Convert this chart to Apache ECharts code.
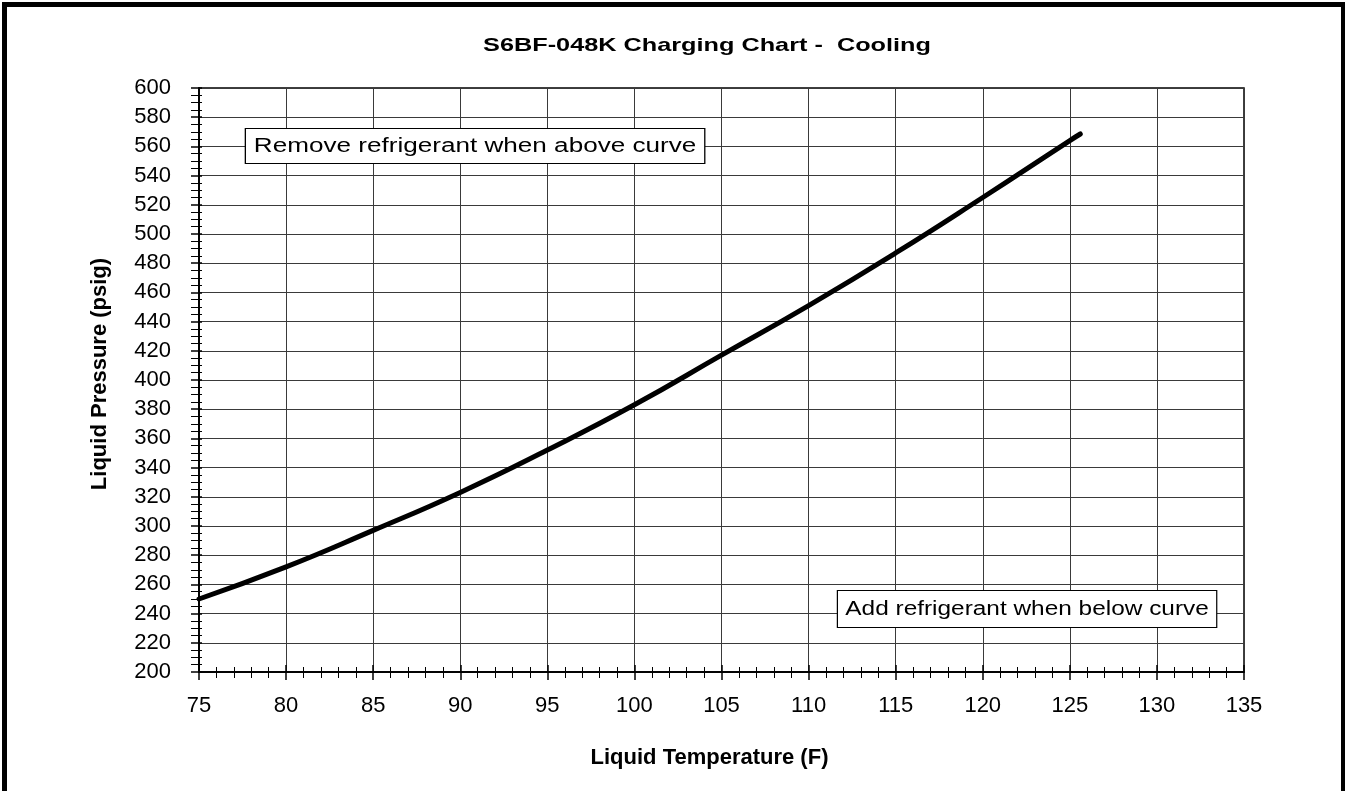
<!DOCTYPE html>
<html>
<head>
<meta charset="utf-8">
<script src="https://cdn.jsdelivr.net/npm/echarts@6/dist/echarts.min.js"></script>
<style>
html,body{margin:0;padding:0;background:#fff;}
#c{width:1345px;height:791px;}
</style>
</head>
<body>
<div id="c"></div>
<script>
var titleText = 'S6BF-048K Charging Chart -  Cooling';
var xName = 'Liquid Temperature (F)';
var yName = 'Liquid Pressure (psig)';
var noteAbove = 'Remove refrigerant when above curve';
var noteBelow = 'Add refrigerant when below curve';
var temps = [75, 80, 85, 90, 95, 100, 105, 110, 115, 120, 125, 125.6];
var pressures = [250, 272, 297, 323, 352, 383, 417, 451, 487, 525, 564, 568.5];
var xMin = 75, xMax = 135, xStep = 5;
var yMin = 200, yMax = 600, yStep = 20;

var FONT = 'Liberation Sans, Arial, sans-serif';
var data = temps.map(function (t, i) { return [t, pressures[i]]; });
var chart = echarts.init(document.getElementById('c'));
var grid = {left: 199, right: 101, top: 88, bottom: 119, show: true, borderColor: '#000', borderWidth: 1.5, backgroundColor: '#fff'};

function xAxisBase(extra) {
  return Object.assign({
    type: 'value', min: xMin, max: xMax, interval: xStep, position: 'bottom',
    axisLine: {show: true, lineStyle: {color: '#000', width: 1.5}},
    minorTick: {show: true, splitNumber: 5, length: 6, lineStyle: {color: '#000', width: 1}},
    axisTick: {show: true, length: 8, lineStyle: {color: '#000', width: 1.5}},
    splitLine: {show: false}
  }, extra);
}
function yAxisBase(extra) {
  return Object.assign({
    type: 'value', min: yMin, max: yMax, interval: yStep, position: 'left',
    axisLine: {show: true, lineStyle: {color: '#000', width: 1.5}},
    minorTick: {show: true, splitNumber: 4, length: 8, lineStyle: {color: '#000', width: 1}},
    axisTick: {show: true, length: 8, lineStyle: {color: '#000', width: 1.5}},
    splitLine: {show: false}
  }, extra);
}

chart.setOption({
  animation: false,
  backgroundColor: '#fff',
  grid: grid,
  xAxis: [
    xAxisBase({
      name: xName, nameLocation: 'middle', nameGap: 75,
      nameTextStyle: {fontFamily: FONT, fontWeight: 'bold', fontSize: 22, color: '#000', padding: [0, 24, 0, 0]},
      axisLabel: {fontFamily: FONT, fontSize: 22, color: '#000', margin: 23},
      splitLine: {show: true, lineStyle: {color: '#3a3a3a', width: 1}}
    }),
    xAxisBase({
      axisLabel: {show: false},
      axisTick: {show: true, inside: true, length: 7, lineStyle: {color: '#000', width: 1.5}},
      minorTick: {show: true, splitNumber: 5, length: 5, lineStyle: {color: '#000', width: 1}}
    })
  ],
  yAxis: [
    yAxisBase({
      name: yName, nameLocation: 'middle', nameGap: 88, nameRotate: 90,
      nameTextStyle: {fontFamily: FONT, fontWeight: 'bold', fontSize: 22, color: '#000', padding: [0, 0, 0, 12]},
      axisLabel: {fontFamily: FONT, fontSize: 22, color: '#000', margin: 28},
      splitLine: {show: true, lineStyle: {color: '#3a3a3a', width: 1}}
    }),
    yAxisBase({
      axisLabel: {show: false},
      axisTick: {show: true, inside: true, length: 3, lineStyle: {color: '#000', width: 1.5}},
      minorTick: {show: true, splitNumber: 4, length: 3, lineStyle: {color: '#000', width: 1}}
    })
  ],
  series: [{
    type: 'line', xAxisIndex: 0, yAxisIndex: 0, data: data, smooth: true,
    showSymbol: false, symbol: 'none',
    lineStyle: {color: '#000', width: 5, cap: 'round'}
  }],
  graphic: [
    {type: 'rect', left: 2, top: 2, shape: {width: 1339, height: 790},
      style: {fill: 'none', stroke: '#000', lineWidth: 5}, silent: true},
    {type: 'text', x: 707, y: 46, scaleX: 1.33, z: 100,
      style: {text: titleText, font: 'bold 19px ' + FONT, fill: '#000',
        textAlign: 'center', textVerticalAlign: 'middle'}},
    {type: 'text', x: 246, y: 129, scaleX: 1.305, z: 100,
      style: {text: noteAbove, font: '20px ' + FONT, fill: '#000',
        backgroundColor: '#fff', borderColor: '#000', borderWidth: 1, padding: [7, 6, 7, 6]}},
    {type: 'text', x: 838, y: 591, scaleX: 1.22, z: 100,
      style: {text: noteBelow, font: '20px ' + FONT, fill: '#000',
        backgroundColor: '#fff', borderColor: '#000', borderWidth: 1, padding: [8, 6, 8, 6]}}
  ]
});
</script>
</body>
</html>
